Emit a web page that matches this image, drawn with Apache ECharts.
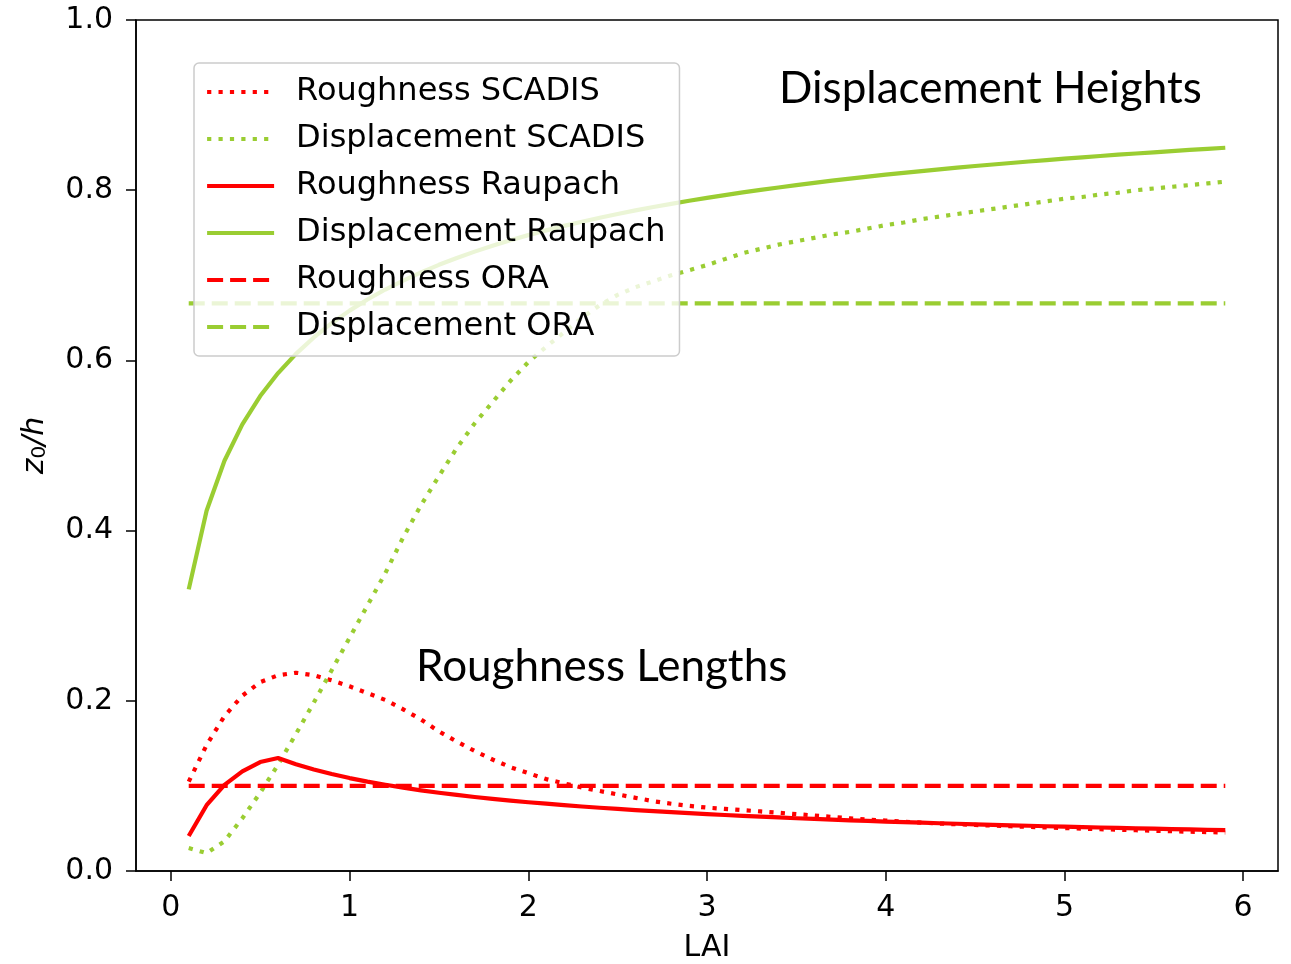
<!DOCTYPE html>
<html>
<head>
<meta charset="utf-8">
<script src="https://cdn.jsdelivr.net/npm/echarts@6/dist/echarts.min.js"></script>
<style>html,body{margin:0;padding:0;background:#fff;}#c{width:1291px;height:964px;}</style>
</head>
<body>
<div id="c"></div>
<script>
// LAI sample points
const LAI = [0.1,0.2,0.3,0.4,0.5,0.6,0.7,0.8,0.9,1.0,1.1,1.2,1.3,1.4,1.5,1.6,1.7,1.8,1.9,2.0,
  2.1,2.2,2.3,2.4,2.5,2.6,2.7,2.8,2.9,3.0,3.1,3.2,3.3,3.4,3.5,3.6,3.7,3.8,3.9,4.0,
  4.1,4.2,4.3,4.4,4.5,4.6,4.7,4.8,4.9,5.0,5.1,5.2,5.3,5.4,5.5,5.6,5.7,5.8,5.9];

const roughnessSCADIS = [0.105,0.148,0.182,0.206,0.222,0.230,0.233,0.230,0.224,0.217,
  0.209,0.201,0.190,0.178,0.164,0.152,0.141,0.131,0.122,0.115,
  0.108,0.103,0.098,0.094,0.090,0.086,0.082,0.079,0.0765,0.0745,
  0.0730,0.0715,0.0700,0.0685,0.0668,0.0652,0.0636,0.0619,0.0605,0.0592,
  0.0580,0.0568,0.0558,0.0549,0.0541,0.0533,0.0526,0.0519,0.0512,0.0505,
  0.0498,0.0491,0.0485,0.0479,0.0473,0.0467,0.0462,0.0457,0.0452];

const displacementSCADIS = [0.027,0.021,0.035,0.062,0.092,0.125,0.161,0.198,0.236,0.274,
  0.312,0.350,0.392,0.430,0.464,0.497,0.526,0.551,0.576,0.598,
  0.616,0.633,0.650,0.665,0.677,0.686,0.693,0.700,0.706,0.712,
  0.719,0.726,0.731,0.736,0.740,0.744,0.748,0.751,0.755,0.759,
  0.762,0.766,0.769,0.772,0.775,0.778,0.781,0.784,0.787,0.790,
  0.792,0.795,0.797,0.800,0.802,0.804,0.806,0.808,0.810];

const roughnessRaupach = [0.0412,0.0773,0.1012,0.1171,0.1280,0.1327,0.1255,0.1193,0.1139,0.1092,
  0.1050,0.1013,0.0979,0.0948,0.0920,0.0894,0.0870,0.0848,0.0828,0.0808,
  0.0791,0.0774,0.0758,0.0743,0.0729,0.0715,0.0703,0.0691,0.0679,0.0668,
  0.0658,0.0648,0.0638,0.0629,0.0620,0.0612,0.0604,0.0596,0.0589,0.0581,
  0.0574,0.0568,0.0561,0.0555,0.0549,0.0543,0.0537,0.0532,0.0526,0.0521,
  0.0516,0.0511,0.0506,0.0502,0.0497,0.0493,0.0488,0.0484,0.0480];

const displacementRaupach = [0.3309,0.4234,0.4821,0.5248,0.5581,0.5851,0.6077,0.6270,0.6437,0.6585,
  0.6716,0.6833,0.6938,0.7035,0.7123,0.7204,0.7278,0.7347,0.7412,0.7472,
  0.7528,0.7581,0.7630,0.7677,0.7721,0.7763,0.7802,0.7840,0.7876,0.7910,
  0.7943,0.7974,0.8004,0.8032,0.8060,0.8086,0.8112,0.8136,0.8159,0.8182,
  0.8204,0.8225,0.8245,0.8265,0.8284,0.8302,0.8320,0.8337,0.8354,0.8371,
  0.8386,0.8402,0.8417,0.8431,0.8445,0.8459,0.8473,0.8486,0.8499];

const oraLAI = [0.1, 5.9];
const roughnessORA = [0.1, 0.1];
const displacementORA = [0.667, 0.667];

const xTicks = [0,1,2,3,4,5,6];
const seriesNames = ['Roughness SCADIS','Displacement SCADIS','Roughness Raupach',
  'Displacement Raupach','Roughness ORA','Displacement ORA'];

const RED = '#ff0000', GREEN = '#9acd32';
const LW = 4.2;
const DOT = [LW, 7.2], DASH = [16, 7];
const pairs = (xs, ys) => xs.map((x, i) => [x, ys[i]]);

function mk(name, xs, ys, color, type) {
  return {
    name, type: 'line', data: pairs(xs, ys), symbol: 'none', smooth: false,
    lineStyle: { color, width: LW, type, cap: 'butt', join: 'round' },
    itemStyle: { color }, silent: true
  };
}

const chart = echarts.init(document.getElementById('c'), null, { renderer: 'canvas' });
const tickFont = { fontFamily: 'DejaVu Sans', fontSize: 30, color: '#000' };
chart.setOption({
  animation: false,
  backgroundColor: '#fff',
  grid: { left: 136, right: 13, top: 20, bottom: 93, outerBoundsMode: 'none', containLabel: false,
    show: true, borderColor: '#000', borderWidth: 1.5, backgroundColor: 'transparent' },
  xAxis: {
    type: 'value', min: -0.195, max: 6.195,
    name: 'LAI', nameLocation: 'middle', nameGap: 62,
    nameTextStyle: { fontFamily: 'DejaVu Sans', fontSize: 30, color: '#000' },
    axisLine: { show: true, onZero: false, lineStyle: { color: '#000', width: 1.5 } },
    axisTick: { show: true, inside: false, length: 10, lineStyle: { color: '#000', width: 1.5 }, customValues: xTicks },
    axisLabel: Object.assign({ margin: 22, customValues: xTicks, formatter: v => String(v) }, tickFont),
    splitLine: { show: false }
  },
  yAxis: {
    type: 'value', min: 0, max: 1, interval: 0.2,
    name: '{i|z}{s|0}{i|/h}', nameLocation: 'middle', nameGap: 86, nameRotate: 90,
    nameTextStyle: {
      rich: {
        i: { fontFamily: 'DejaVu Sans', fontStyle: 'italic', fontSize: 30, color: '#000', lineHeight: 32, verticalAlign: 'bottom' },
        s: { fontFamily: 'DejaVu Sans', fontSize: 20, color: '#000', lineHeight: 32, verticalAlign: 'bottom' }
      }
    },
    axisLine: { show: true, onZero: false, lineStyle: { color: '#000', width: 1.5 } },
    axisTick: { show: true, inside: false, length: 10, lineStyle: { color: '#000', width: 1.5 } },
    axisLabel: Object.assign({ margin: 23, formatter: v => v.toFixed(1) }, tickFont),
    splitLine: { show: false }
  },
  legend: {
    orient: 'vertical', left: 194, top: 63,
    padding: [11, 14, 11, 11],
    itemWidth: 67, itemHeight: 14, itemGap: 11,
    backgroundColor: 'rgba(255,255,255,0.8)',
    borderColor: '#cccccc', borderWidth: 1.5, borderRadius: 5,
    itemStyle: { opacity: 0, borderWidth: 0 },
    lineStyle: { width: LW },
    textStyle: { fontFamily: 'DejaVu Sans', fontSize: 32, color: '#000', lineHeight: 36, padding: [0, 0, 0, 17] },
    data: seriesNames,
    selectedMode: false
  },
  graphic: [
    { type: 'text', left: 779, top: 67, silent: true,
      style: { text: 'Displacement Heights', fontFamily: 'Lato', fontSize: 44, fill: '#000' } },
    { type: 'text', left: 416, top: 645, silent: true,
      style: { text: 'Roughness Lengths', fontFamily: 'Lato', fontSize: 44, fill: '#000' } }
  ],
  series: [
    mk(seriesNames[0], LAI, roughnessSCADIS, RED, DOT),
    mk(seriesNames[1], LAI, displacementSCADIS, GREEN, DOT),
    mk(seriesNames[2], LAI, roughnessRaupach, RED, 'solid'),
    mk(seriesNames[3], LAI, displacementRaupach, GREEN, 'solid'),
    mk(seriesNames[4], oraLAI, roughnessORA, RED, DASH),
    mk(seriesNames[5], oraLAI, displacementORA, GREEN, DASH)
  ]
});
</script>
</body>
</html>
